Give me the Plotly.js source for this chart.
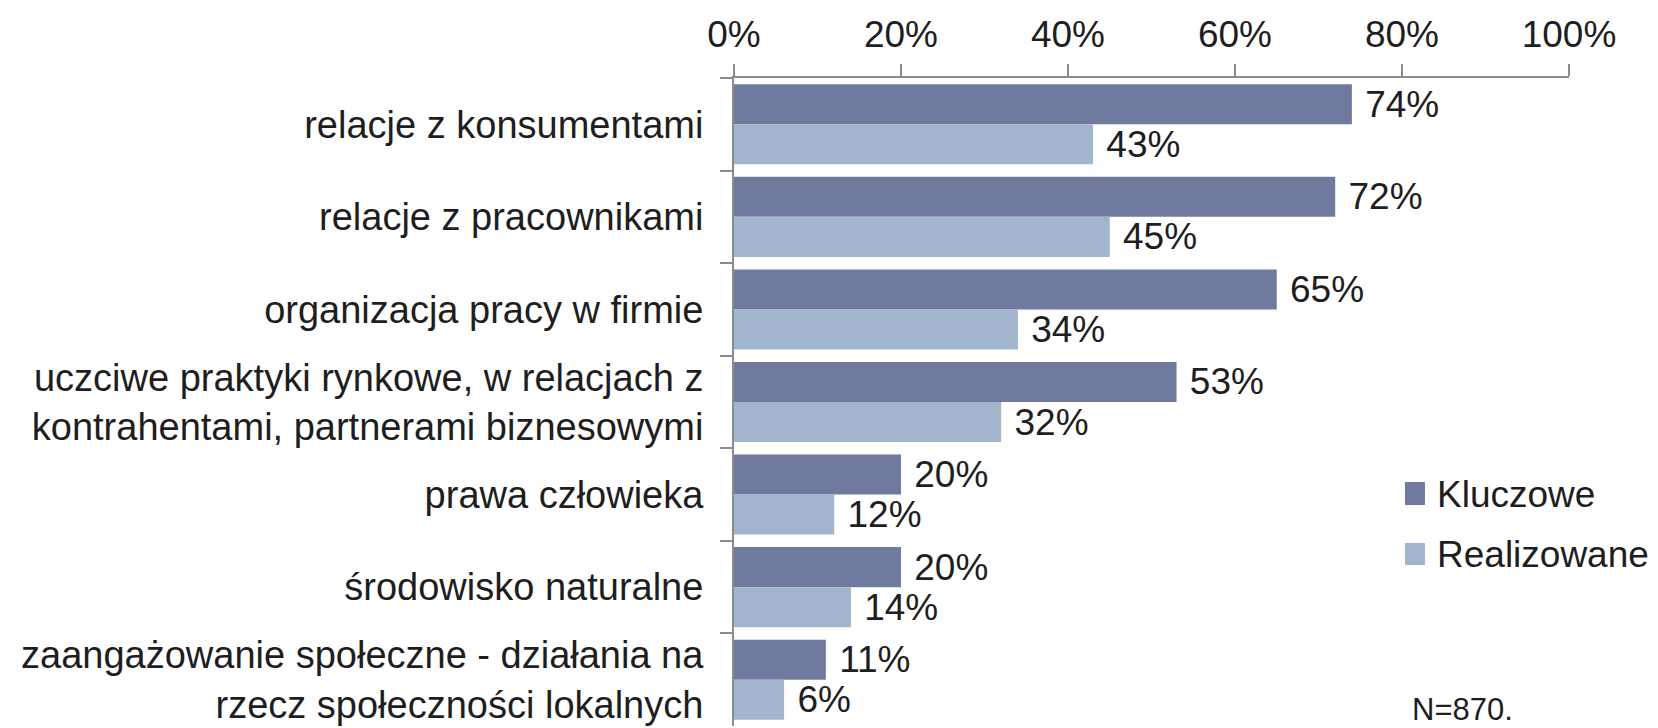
<!DOCTYPE html>
<html>
<head>
<meta charset="utf-8">
<script src="https://cdn.plot.ly/plotly-3.0.1.min.js"></script>
<style>html,body{margin:0;padding:0;background:#fff;}#chart{width:1658px;height:728px;}</style>
</head>
<body>
<div id="chart"></div>
<script>
const categories = [
  "relacje z konsumentami",
  "relacje z pracownikami",
  "organizacja pracy w firmie",
  "uczciwe praktyki rynkowe, w relacjach z<br>kontrahentami, partnerami biznesowymi",
  "prawa człowieka",
  "środowisko naturalne",
  "zaangażowanie społeczne - działania na<br>rzecz społeczności lokalnych"
];
const kluczowe = [74, 72, 65, 53, 20, 20, 11];
const realizowane = [43, 45, 34, 32, 12, 14, 6];
const seriesNames = ["Kluczowe", "Realizowane"];
const tickVals = [0, 20, 40, 60, 80, 100];
const tickLabels = ["0%", "20%", "40%", "60%", "80%", "100%"];
const noteText = "N=870.";

const darkColor = "#707a9f";
const lightColor = "#a1b6cd";
const axisColor = "#8c8c8c";
const textColor = "#1e1e1e";
const fontFamily = "'Liberation Sans', Arial, sans-serif";

const traces = [
  {
    type: "bar", orientation: "h", name: seriesNames[0],
    y: categories, x: kluczowe,
    marker: {color: darkColor},
    text: kluczowe.map(v => "\u00a0" + v + "%"),
    textposition: "outside", constraintext: "none", cliponaxis: false,
    textfont: {family: fontFamily, size: 37, color: textColor},
    showlegend: false, hoverinfo: "skip"
  },
  {
    type: "bar", orientation: "h", name: seriesNames[1],
    y: categories, x: realizowane,
    marker: {color: lightColor},
    text: realizowane.map(v => "\u00a0" + v + "%"),
    textposition: "outside", constraintext: "none", cliponaxis: false,
    textfont: {family: fontFamily, size: 37, color: textColor},
    showlegend: false, hoverinfo: "skip"
  }
];

const layout = {
  width: 1658, height: 728,
  margin: {l: 734, r: 89, t: 78, b: 2, pad: 0},
  paper_bgcolor: "#ffffff", plot_bgcolor: "#ffffff",
  barmode: "group", bargap: 0.135, bargroupgap: 0,
  font: {family: fontFamily, color: textColor},
  showlegend: false,
  xaxis: {
    side: "top", range: [0, 100], tickmode: "array", tickvals: tickVals, ticktext: tickLabels,
    showgrid: false, zeroline: false,
    showline: true, linecolor: axisColor, linewidth: 2,
    ticks: "outside", ticklen: 12, tickwidth: 2, tickcolor: axisColor,
    ticklabelstandoff: 2,
    tickfont: {family: fontFamily, size: 37, color: textColor},
    fixedrange: true
  },
  yaxis: {
    autorange: "reversed", type: "category",
    showgrid: false, zeroline: false,
    showline: true, linecolor: axisColor, linewidth: 2,
    ticks: "outside", ticklen: 12, tickwidth: 2, tickcolor: axisColor,
    tickson: "boundaries",
    ticklabelstandoff: 21,
    tickfont: {family: fontFamily, size: 38, color: textColor},
    fixedrange: true
  },
  shapes: [
    {type: "rect", xref: "paper", yref: "paper", x0: 0.8036, x1: 0.8275, y0: 0.3410, y1: 0.3765,
     fillcolor: darkColor, line: {width: 0}},
    {type: "rect", xref: "paper", yref: "paper", x0: 0.8036, x1: 0.8275, y0: 0.2485, y1: 0.2824,
     fillcolor: lightColor, line: {width: 0}}
  ],
  annotations: [
    {xref: "paper", yref: "paper", x: 0.8395, y: 0.358, xanchor: "left", yanchor: "middle",
     text: seriesNames[0], showarrow: false, font: {family: fontFamily, size: 37, color: textColor}},
    {xref: "paper", yref: "paper", x: 0.8395, y: 0.2654, xanchor: "left", yanchor: "middle",
     text: seriesNames[1], showarrow: false, font: {family: fontFamily, size: 37, color: textColor}},
    {xref: "paper", yref: "paper", x: 0.8096, y: 0.025, xanchor: "left", yanchor: "middle",
     text: noteText, showarrow: false, font: {family: fontFamily, size: 31, color: textColor}}
  ]
};

Plotly.newPlot("chart", traces, layout, {displayModeBar: false, staticPlot: true});
</script>
</body>
</html>
